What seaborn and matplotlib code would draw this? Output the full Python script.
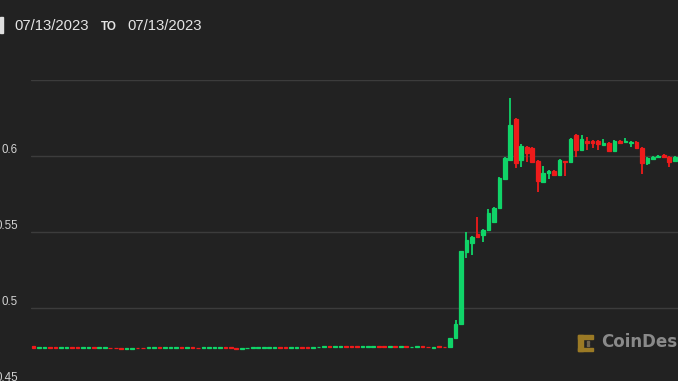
import numpy as np
import pandas as pd
import matplotlib
matplotlib.use("Agg")
import matplotlib.pyplot as plt
import matplotlib.transforms as mtransforms
from matplotlib.patches import Rectangle
import seaborn as sns

# ---------------- data ----------------
opens = [
    .4748, .4736, .4735, .4744, .4742, .4736, .4736, .4745, .4742, .4736,
    .4735, .4741, .4735, .4735, .4740, .4740, .4739, .4729, .4733, .4740,
    .4740, .4735, .4735, .4743, .4738, .4738, .4737, .4743, .4736, .4744,
    .4740, .4735, .4736, .4737, .4738, .4743, .4741, .4739, .4731, .4734,
    .4735, .4735, .4736, .4736, .4735, .4744, .4741, .4737, .4737, .4746,
    .4746, .4740, .4741, .4743, .4750, .4743, .4744, .4751, .4750, .4751,
    .4742, .4743, .4744, .4750, .4749, .4743, .4750, .4741, .4749, .4741,
    .4742, .4748, .4747, .4740, .4748, .4747,
    .4745, .4800, .4898, .5372, .5431, .5490, .5483, .5516, .5569, .5661,
    .5852, .5977, .6247, .5977, .6063, .6056, .5970, .5832, .5891, .5905,
    .5878, .5970, .5964, .6141, .6043, .6102, .6102, .6102, .6076, .6089,
    .6036, .6102, .6095, .6085, .6095, .6056, .5957, .5984, .5997, .6010,
    .5997, .5970,
]
closes = [
    .4736, .4742, .4745, .4736, .4736, .4742, .4742, .4736, .4736, .4742,
    .4741, .4735, .4741, .4741, .4734, .4734, .4729, .4737, .4739, .4734,
    .4734, .4741, .4745, .4737, .4744, .4744, .4743, .4737, .4742, .4735,
    .4734, .4741, .4742, .4743, .4744, .4737, .4734, .4731, .4739, .4740,
    .4741, .4741, .4742, .4742, .4745, .4736, .4735, .4743, .4745, .4740,
    .4740, .4746, .4747, .4749, .4744, .4749, .4750, .4745, .4744, .4741,
    .4748, .4749, .4750, .4744, .4743, .4749, .4742, .4749, .4741, .4747,
    .4748, .4742, .4741, .4746, .4742, .4741,
    .4800, .4898, .5378, .5451, .5470, .5470, .5516, .5628, .5661, .5859,
    .5990, .6207, .5957, .6069, .6023, .5964, .5839, .5891, .5905, .5878,
    .5977, .5964, .6115, .6043, .6115, .6089, .6089, .6082, .6089, .6036,
    .6102, .6089, .6102, .6095, .6056, .5957, .5990, .5997, .6003, .5997,
    .5964, .5997,
]
highs = [
    .4748, .4742, .4745, .4744, .4742, .4742, .4742, .4745, .4742, .4742,
    .4741, .4741, .4741, .4741, .4740, .4740, .4739, .4737, .4739, .4740,
    .4740, .4741, .4745, .4743, .4744, .4744, .4743, .4743, .4742, .4744,
    .4740, .4741, .4742, .4743, .4744, .4743, .4741, .4739, .4739, .4740,
    .4741, .4741, .4742, .4742, .4745, .4744, .4741, .4743, .4745, .4746,
    .4746, .4746, .4747, .4749, .4750, .4749, .4750, .4751, .4750, .4751,
    .4748, .4749, .4750, .4750, .4749, .4749, .4750, .4749, .4749, .4747,
    .4748, .4748, .4747, .4746, .4748, .4747,
    .4800, .4924, .5378, .5503, .5475, .5602, .5520, .5655, .5665, .5862,
    .5995, .6385, .6253, .6082, .6070, .6063, .5975, .5937, .5908, .5908,
    .5980, .5972, .6120, .6148, .6141, .6128, .6105, .6105, .6115, .6092,
    .6105, .6105, .6122, .6098, .6098, .6059, .5993, .6000, .6006, .6013,
    .6000, .6000,
]
lows = [
    .4736, .4736, .4735, .4736, .4736, .4736, .4736, .4736, .4736, .4736,
    .4735, .4735, .4735, .4735, .4734, .4734, .4729, .4729, .4733, .4734,
    .4734, .4735, .4735, .4737, .4738, .4738, .4737, .4737, .4736, .4735,
    .4734, .4735, .4736, .4737, .4738, .4737, .4734, .4731, .4731, .4734,
    .4735, .4735, .4736, .4736, .4735, .4736, .4735, .4737, .4737, .4740,
    .4740, .4740, .4741, .4743, .4744, .4743, .4744, .4745, .4744, .4741,
    .4742, .4743, .4744, .4744, .4743, .4743, .4742, .4741, .4741, .4741,
    .4742, .4742, .4741, .4740, .4742, .4741,
    .4745, .4795, .4898, .5332, .5352, .5465, .5437, .5510, .5565, .5658,
    .5850, .5975, .5924, .5931, .5964, .5960, .5766, .5830, .5852, .5875,
    .5875, .5872, .5962, .5997, .6040, .6043, .6056, .6043, .6074, .6033,
    .6033, .6086, .6092, .6063, .6053, .5885, .5944, .5980, .5994, .5994,
    .5931, .5967,
]
grid_values = [0.5, 0.55, 0.6, 0.65]
y_label_values = [0.45, 0.5, 0.55, 0.6]
y_labels = ["0.45", "0.5", "0.55", "0.6"]
date_from = "07/13/2023"
date_to = "07/13/2023"
to_word = "TO"
brand = "CoinDesk"

# ---------------- styling ----------------
BG = "#222222"
GREEN = "#10d468"
RED = "#ee1b1b"
GRID = "#3c3c3c"
GOLD = "#9b7a25"
W, H = 678, 381

sns.set_theme(style="dark", rc={
    "axes.facecolor": BG,
    "figure.facecolor": BG,
    "savefig.facecolor": BG,
    "grid.color": GRID,
    "grid.linewidth": 1.0,
    "axes.edgecolor": BG,
})
plt.rcParams["font.family"] = ["Liberation Sans", "DejaVu Sans"]

df = pd.DataFrame({"open": opens, "high": highs, "low": lows, "close": closes})
df["x"] = np.arange(len(df))
df["up"] = df["close"] >= df["open"]
df["color"] = np.where(df["up"], GREEN, RED)
df["bottom"] = df[["open", "close"]].min(axis=1)
df["height"] = (df["close"] - df["open"]).abs()

fig = plt.figure(figsize=(W / 100, H / 100), dpi=100)
ax_left = 31 / W
ax_bottom = (H - 384) / H
ax_top = 1 - 80 / H
ax = fig.add_axes([ax_left, ax_bottom, 1 - ax_left, ax_top - ax_bottom])
ax.set_facecolor(BG)

# wicks
ax.vlines(df["x"], df["low"], df["high"], colors=df["color"], linewidth=1.3, zorder=2)
# bodies (thin same-colour edge keeps the tiny flat bodies visible)
ax.bar(df["x"], df["height"], bottom=df["bottom"], width=0.66,
       color=df["color"], edgecolor=df["color"], linewidth=0.9, zorder=3)

ax.set_xlim(-0.46, 117.6)
ax.set_ylim(0.45, 0.6503)
ax.set_yticks(grid_values)
ax.set_xticks([])
ax.yaxis.grid(True, color=GRID, linewidth=1.0, zorder=0)
ax.xaxis.grid(False)
ax.tick_params(axis="y", length=0, labelleft=False)
for s in ax.spines.values():
    s.set_visible(False)

# y labels, right aligned at x=18px, sitting ~6px above the gridline
lab_tr = mtransforms.offset_copy(ax.get_yaxis_transform(), fig=fig, y=6, units="dots")
for v, t in zip(y_label_values, y_labels):
    ax.text((18 - 31) / (W - 31), v, t, transform=lab_tr, ha="right", va="center",
            fontsize=8.3, color="#d2d2d2", clip_on=False,
            family=["Liberation Sans", "DejaVu Sans"])

# header
fig.patches.append(Rectangle((0, 1 - 33 / H), 2.5 / W, 16 / H, transform=fig.transFigure,
                             color="#e0e0e0", zorder=5))
fig.text(14 / W, 1 - 26.5 / H, date_from, ha="left", va="center", fontsize=10.7,
         color="#e4e4e4", family=["Liberation Sans", "DejaVu Sans"])
fig.text(101 / W, 1 - 26.8 / H, to_word, ha="left", va="center", fontsize=8.4,
         fontweight="bold", color="#e4e4e4", family=["Liberation Sans", "DejaVu Sans"])
fig.text(127 / W, 1 - 26.5 / H, date_to, ha="left", va="center", fontsize=10.7,
         color="#e4e4e4", family=["Liberation Sans", "DejaVu Sans"])

# watermark logo (bracket shape) and brand text
def px_rect(x0, y0, x1, y1, color):
    fig.patches.append(Rectangle((x0 / W, 1 - y1 / H), (x1 - x0) / W, (y1 - y0) / H,
                                 transform=fig.transFigure, color=color, zorder=5))

px_rect(578, 335, 583, 351, GOLD)
px_rect(578, 335, 593, 338.5, GOLD)
px_rect(578, 347.5, 593, 351, GOLD)
px_rect(586.5, 340.5, 588.5, 342.5, "#6e6350")
px_rect(586.5, 344, 588.5, 346, "#6e6350")
fig.text(601 / W, 1 - 342 / H, brand, ha="left", va="center", fontsize=12,
         fontweight="bold", color="#8a8a8a", family=["DejaVu Sans"])

fig.savefig("out.png", dpi=100, facecolor=BG)
